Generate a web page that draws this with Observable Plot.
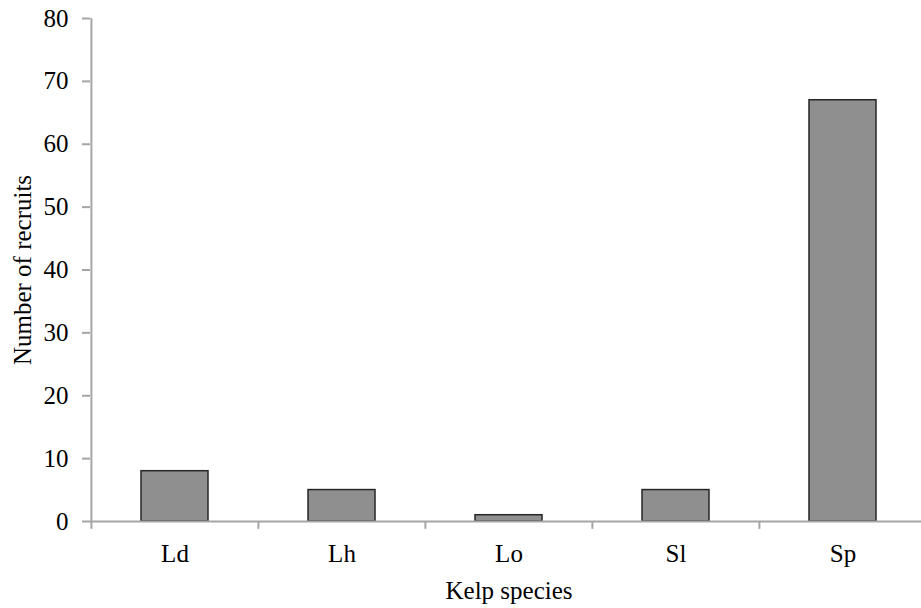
<!DOCTYPE html>
<html>
<head>
<meta charset="utf-8">
<script src="https://cdn.jsdelivr.net/npm/d3@7"></script>
<script src="https://cdn.jsdelivr.net/npm/@observablehq/plot@0.6"></script>
<style>
  body { margin: 0; background: #fff; }
  svg, svg text { font-family: "Liberation Serif", "Times New Roman", serif !important; }
</style>
</head>
<body>
<div id="chart"></div>
<script>
const species = ["Ld", "Lh", "Lo", "Sl", "Sp"];
const recruits = [8, 5, 1, 5, 67];
const yTicks = [0, 10, 20, 30, 40, 50, 60, 70, 80];

const data = species.map((s, i) => ({species: s, value: recruits[i]}));

const mLeft = 90, rightEdge = 926, W = 921, H = 608, mTop = 18, mBottom = 87;
const halfStep = (rightEdge - mLeft) / species.length / 2;
const axisColor = "#a6a6a6";
const serif = "Liberation Serif";

const chart = Plot.plot({
  width: W,
  height: H,
  marginLeft: mLeft,
  marginRight: 0,
  marginTop: mTop,
  marginBottom: mBottom,
  style: {fontFamily: "'Liberation Serif', 'Times New Roman', serif", fontSize: "25px", color: "#000", background: "#fff"},
  x: {domain: species, range: [mLeft, rightEdge], paddingInner: 0.6, paddingOuter: 0.3, align: 0.5},
  y: {domain: [0, 80]},
  marks: [
    Plot.barY(data, {x: "species", y: "value", fill: "#8f8f8f", stroke: "#262626", strokeWidth: 1.5}),
    Plot.ruleY([0], {stroke: axisColor, strokeWidth: 2}),
    Plot.ruleX([species[0]], {dx: -halfStep, y1: 0, y2: 80, stroke: axisColor, strokeWidth: 2}),
    Plot.ruleX(species, {dx: -halfStep, y1: 0, y2: -1.25, stroke: axisColor, strokeWidth: 2}),
    Plot.axisY({ticks: yTicks, tickSize: 8, tickPadding: 14, stroke: axisColor, strokeWidth: 2, label: null, fontSize: 25, fontFamily: serif, fill: "#000", fontVariant: "normal"}),
    Plot.axisX({tickSize: 0, tickPadding: 23, label: null, fontSize: 25, fontFamily: serif, fill: "#000"}),
    Plot.text(["Number of recruits"], {frameAnchor: "left", dx: -68, rotate: -90, textAnchor: "middle", lineAnchor: "middle", fontSize: 25, fontFamily: serif, fill: "#000"}),
    Plot.text(["Kelp species"], {frameAnchor: "bottom", dx: 3, dy: 69, lineAnchor: "middle", fontSize: 25, fontFamily: serif, fill: "#000"})
  ]
});
document.getElementById("chart").appendChild(chart);
</script>
</body>
</html>
